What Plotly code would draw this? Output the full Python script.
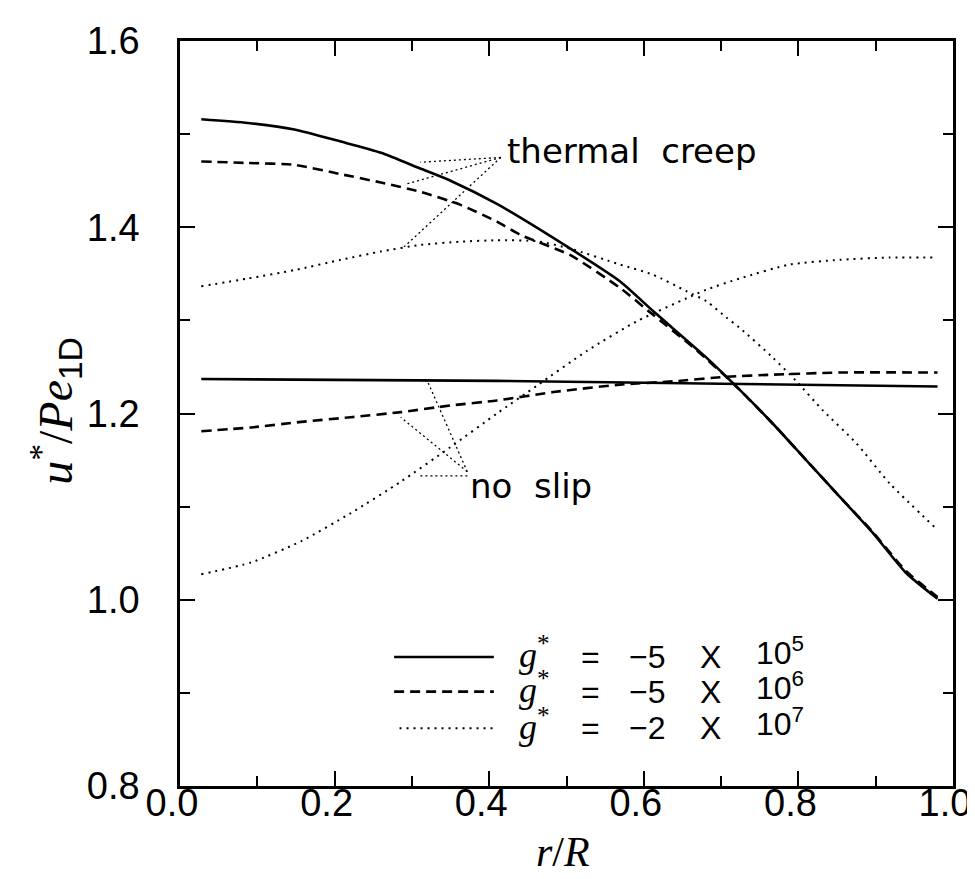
import plotly.graph_objects as go

# ---------------- data ----------------
# thermal creep curves
tc_solid_r = [0.0275, 0.088, 0.148, 0.208, 0.26, 0.311, 0.35, 0.41, 0.505, 0.569, 0.612, 0.681,
              0.716, 0.767, 0.81, 0.853, 0.896, 0.939, 0.98]
tc_solid_u = [1.516, 1.512, 1.505, 1.492, 1.480, 1.463, 1.450, 1.425, 1.377, 1.342, 1.310, 1.260,
              1.232, 1.189, 1.150, 1.111, 1.072, 1.029, 1.001]

tc_dash_r = [0.0275, 0.088, 0.148, 0.208, 0.26, 0.311, 0.363, 0.41, 0.44, 0.505, 0.569, 0.612,
             0.664, 0.716, 0.767, 0.81, 0.853, 0.896, 0.939, 0.98]
tc_dash_u = [1.4706, 1.469, 1.467, 1.457, 1.448, 1.438, 1.424, 1.406, 1.392, 1.370, 1.335, 1.306,
             1.271, 1.232, 1.189, 1.150, 1.111, 1.073, 1.031, 1.003]

tc_dot_r = [0.0275, 0.088, 0.148, 0.208, 0.26, 0.311, 0.363, 0.41, 0.462, 0.505, 0.569, 0.612,
            0.656, 0.681, 0.707, 0.724, 0.767, 0.797, 0.832, 0.875, 0.918, 0.98]
tc_dot_u = [1.3366, 1.345, 1.354, 1.365, 1.374, 1.381, 1.3845, 1.386, 1.385, 1.377, 1.360, 1.349,
            1.331, 1.3206, 1.303, 1.292, 1.260, 1.235, 1.203, 1.168, 1.125, 1.075]

# no-slip curves
ns_solid_r = [0.0275, 0.41, 0.70, 0.98]
ns_solid_u = [1.237, 1.235, 1.232, 1.229]

ns_dash_r = [0.0275, 0.092, 0.157, 0.221, 0.286, 0.35, 0.41, 0.483, 0.569, 0.638, 0.707, 0.767,
             0.853, 0.98]
ns_dash_u = [1.181, 1.185, 1.191, 1.196, 1.2015, 1.2086, 1.214, 1.223, 1.231, 1.2345, 1.2395, 1.2417,
             1.244, 1.244]

ns_dot_r = [0.0275, 0.092, 0.157, 0.221, 0.286, 0.35, 0.41, 0.462, 0.526, 0.591, 0.656, 0.681,
            0.724, 0.789, 0.853, 0.918, 0.98]
ns_dot_u = [1.0274, 1.040, 1.063, 1.093, 1.127, 1.164, 1.200, 1.230, 1.267, 1.299, 1.324, 1.333,
            1.345, 1.360, 1.365, 1.3675, 1.3675]

legend_coef = ["\u22125", "\u22125", "\u22122"]
legend_exp = ["5", "6", "7"]

x_ticks = [0.0, 0.2, 0.4, 0.6, 0.8, 1.0]
y_ticks = [0.8, 1.0, 1.2, 1.4, 1.6]

# ---------------- styling ----------------
SOLID = dict(color="black", width=2.6)
DASH = dict(color="black", width=2.6, dash="10px,6px")
DOT = dict(color="black", width=2.0, dash="2px,5px")
LEADER = dict(color="black", width=1.3, dash="2px,3px")

fig = go.Figure()
for r, u, ln in [(tc_solid_r, tc_solid_u, SOLID), (tc_dash_r, tc_dash_u, DASH), (tc_dot_r, tc_dot_u, DOT),
                 (ns_solid_r, ns_solid_u, SOLID), (ns_dash_r, ns_dash_u, DASH), (ns_dot_r, ns_dot_u, DOT)]:
    fig.add_trace(go.Scatter(x=r, y=u, mode="lines", line=dict(shape="spline", smoothing=0.6, **ln),
                             showlegend=False, hoverinfo="skip"))

# leader lines for labels
tc_hub = (0.415, 1.475)
for (x1, y1) in [(0.311, 1.4698), (0.294, 1.4467), (0.290, 1.379)]:
    fig.add_shape(type="line", xref="x", yref="y", x0=tc_hub[0], y0=tc_hub[1], x1=x1, y1=y1, line=LEADER)
ns_hub = (0.3716, 1.1375)
for (x1, y1) in [(0.32, 1.235), (0.2855, 1.196)]:
    fig.add_shape(type="line", xref="x", yref="y", x0=ns_hub[0], y0=ns_hub[1], x1=x1, y1=y1, line=LEADER)
fig.add_shape(type="line", xref="x", yref="y", x0=0.311, y0=1.133, x1=0.374, y1=1.133, line=LEADER)

fig.add_annotation(x=0.421, y=1.4815, xref="x", yref="y", text="thermal  creep", showarrow=False,
                   xanchor="left", yanchor="middle", font=dict(family="DejaVu Sans", size=34, color="black"))
fig.add_annotation(x=0.372, y=1.122, xref="x", yref="y", text="no  slip", showarrow=False,
                   xanchor="left", yanchor="middle", font=dict(family="DejaVu Sans", size=34, color="black"))

# legend drawn manually (long line samples)
leg_y = [0.9386, 0.9013, 0.862]
leg_styles = [SOLID, DASH, DOT]
for i in range(3):
    y = leg_y[i]
    x0 = 0.277 if i < 2 else 0.284
    fig.add_shape(type="line", xref="x", yref="y", x0=x0, x1=0.406, y0=y, y1=y, line=leg_styles[i])
    fnt = dict(family="Liberation Sans", size=32, color="black")
    fig.add_annotation(x=0.436, y=y, xref="x", yref="y", showarrow=False, xanchor="left", yanchor="middle",
                       text="<i>g</i><sup>*</sup>", yshift=4,
                       font=dict(family="Liberation Serif", size=36, color="black"))
    fig.add_annotation(x=0.531, y=y, xref="x", yref="y", showarrow=False, xanchor="center",
                       yanchor="middle", text="=", font=fnt)
    fig.add_annotation(x=0.604, y=y, xref="x", yref="y", showarrow=False, xanchor="center",
                       yanchor="middle", text=legend_coef[i], font=fnt)
    fig.add_annotation(x=0.686, y=y, xref="x", yref="y", showarrow=False, xanchor="center",
                       yanchor="middle", text="X", font=fnt)
    fig.add_annotation(x=0.742, y=y, xref="x", yref="y", showarrow=False, xanchor="left",
                       yanchor="middle", text="10<sup>" + legend_exp[i] + "</sup>", font=fnt, yshift=6)

# axis titles
fig.add_annotation(x=0.4955, y=-0.089, xref="paper", yref="paper", showarrow=False,
                   xanchor="center", yanchor="middle", text="<i>r</i>/<i>R</i>",
                   font=dict(family="Liberation Serif", size=42, color="black"))
fig.add_annotation(x=-0.1613, y=0.504, xref="paper", yref="paper", showarrow=False, textangle=-90,
                   xanchor="center", yanchor="middle",
                   text="<i>u</i><sup>*</sup>/<i>Pe</i><sub><span style='font-family:Liberation Sans'>1D</span></sub>",
                   font=dict(family="Liberation Serif", size=48, color="black"))

axis_common = dict(showline=True, linewidth=2.5, linecolor="black", mirror="allticks", ticks="inside",
                   ticklen=15, tickwidth=2, tickcolor="black", showgrid=False, zeroline=False,
                   tickfont=dict(family="Liberation Sans", size=38, color="black"),
                   minor=dict(ticks="inside", ticklen=10, tickwidth=2, tickcolor="black", dtick=0.1,
                              showgrid=False))

fig.update_xaxes(range=[0, 1], tickvals=x_ticks, ticktext=[f"{v:.1f}" for v in x_ticks],
                 ticklabelstandoff=-18, ticklabelshift=-8, **axis_common)
fig.update_yaxes(range=[0.8, 1.6], tickvals=y_ticks, ticktext=[f"{v:.1f}" for v in y_ticks],
                 ticklabelstandoff=30, **axis_common)

fig.update_layout(width=975, height=879, margin=dict(l=172, r=28, t=28, b=101),
                  plot_bgcolor="white", paper_bgcolor="white", showlegend=False)

fig.write_html("out.html")
